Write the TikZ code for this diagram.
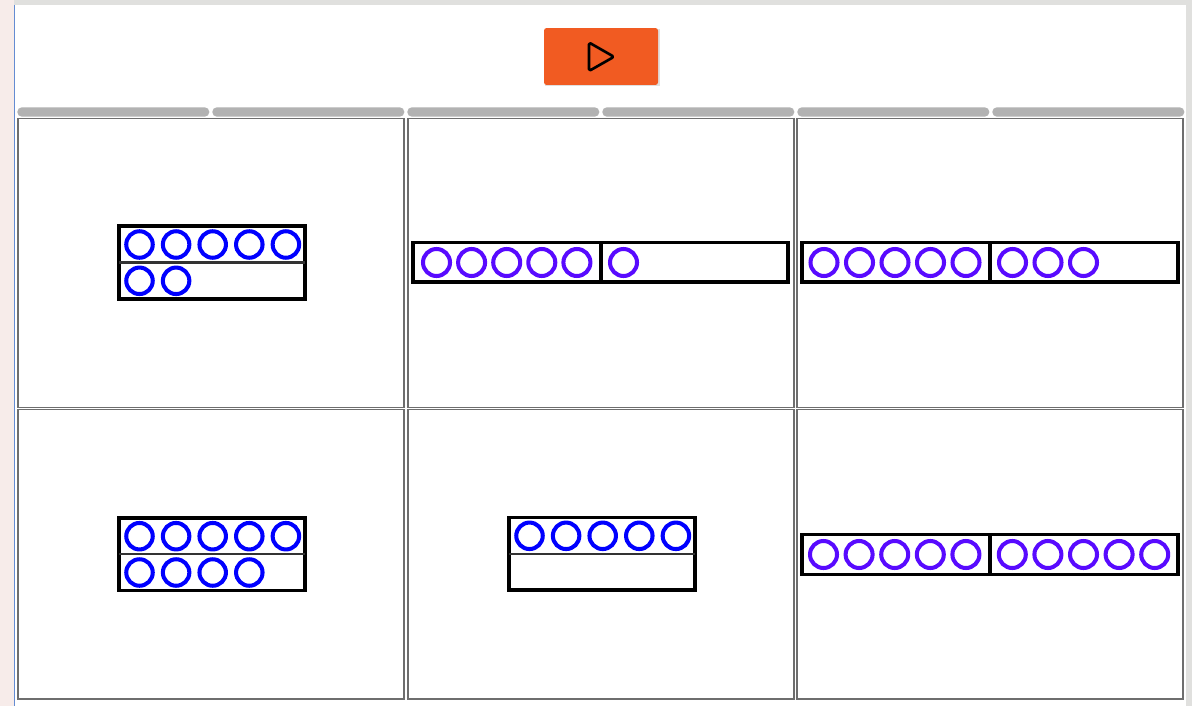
\documentclass[tikz,border=0pt]{standalone}
\usepackage{xcolor}
\usepackage{tikz}
\usetikzlibrary{positioning}
\definecolor{playorange}{RGB}{241,91,34}
\definecolor{dotblue}{RGB}{0,0,255}
\definecolor{dotviolet}{RGB}{88,10,255}
\definecolor{bargray}{RGB}{178,178,178}
\definecolor{framegray}{RGB}{110,110,110}
\definecolor{pagepink}{RGB}{247,236,234}
\definecolor{pagegray}{RGB}{224,224,222}
\definecolor{edgeblue}{RGB}{100,140,210}

\begin{document}
\begin{tikzpicture}[x=0.02cm, y=-0.02cm,
  frame/.style={draw=framegray, line width=0.9pt, fill=white},
  tenbox/.style={draw=black, line width=2.1pt},
  midline/.style={draw=black!80, line width=1.2pt},
  bluedot/.style={draw=dotblue, line width=2.3pt},
  violetdot/.style={draw=dotviolet, line width=2.3pt},
  bar/.style={fill=bargray, rounded corners=2.6pt},
  playbtn/.style={fill=playorange, rounded corners=1.5pt, minimum width=2.28cm, minimum height=1.14cm, inner sep=0pt}
]
\useasboundingbox (0,0) rectangle (1192,706);

% page background
\fill[pagegray] (0,0) rectangle (1192,706);
\fill[pagepink] (0,0) rectangle (14,706);
\fill[white] (15,5) rectangle (1186,706);
\draw[edgeblue, line width=0.6pt] (14.5,5) -- (14.5,706);

% play button
\fill[black!12] (545,29.5) rectangle (659.5,86.5);
\node[playbtn] (play) at (601,56.5) {};
\draw[line width=1.5pt, line join=round, rounded corners=1pt] (589,42.5) -- (589,71) -- (614,56.8) -- cycle;

% progress bars
\foreach \i in {0,...,5}
  \fill[bar] (17.3+195*\i,107.3) rectangle ++(192,9.4);

% frames
\foreach \xa in {18,408,797} {
  \draw[frame] (\xa,118.5) rectangle ++(386,289);
  \draw[frame] (\xa,409.5) rectangle ++(386,289.5);
}

% frame 1: 5 + 2
\draw[tenbox] (119,226) rectangle (305,299);
\draw[midline] (119,262.5) -- (305,262.5);
\foreach \i in {0,...,4} \draw[bluedot] (139.5+36.6*\i,244.5) circle[radius=0.265cm];
\foreach \i in {0,1} \draw[bluedot] (139.5+36.6*\i,280.8) circle[radius=0.265cm];

% frame 2: 5 | 1
\draw[tenbox] (413,242.5) rectangle (788,282);
\draw[tenbox] (601,242.5) -- (601,282);
\foreach \i in {0,...,4} \draw[violetdot] (436.5+35.1*\i,262.5) circle[radius=0.27cm];
\draw[violetdot] (623.5,262.5) circle[radius=0.27cm];

% frame 3: 5 | 3
\draw[tenbox] (802,242.5) rectangle (1178,282);
\draw[tenbox] (990,242.5) -- (990,282);
\foreach \i in {0,...,4} \draw[violetdot] (824+35.5*\i,262.5) circle[radius=0.27cm];
\foreach \i in {0,...,2} \draw[violetdot] (1012.5+35.5*\i,262.5) circle[radius=0.27cm];

% frame 4: 5 + 4
\draw[tenbox] (119,518) rectangle (305,590.5);
\draw[midline] (119,554.3) -- (305,554.3);
\foreach \i in {0,...,4} \draw[bluedot] (139.5+36.6*\i,536.2) circle[radius=0.265cm];
\foreach \i in {0,...,3} \draw[bluedot] (139.5+36.6*\i,572.5) circle[radius=0.265cm];

% frame 5: 5 + 0
\draw[tenbox] (509,517.5) rectangle (695,590);
\draw[midline] (509,553.8) -- (695,553.8);
\foreach \i in {0,...,4} \draw[bluedot] (529.5+36.6*\i,535.8) circle[radius=0.265cm];

% frame 6: 5 | 5
\draw[tenbox] (802,534.5) rectangle (1178,574.5);
\draw[tenbox] (990,534.5) -- (990,574.5);
\foreach \i in {0,...,4} \draw[violetdot] (823.5+35.6*\i,554.5) circle[radius=0.27cm];
\foreach \i in {0,...,4} \draw[violetdot] (1012.3+35.6*\i,554.5) circle[radius=0.27cm];

\end{tikzpicture}
\end{document}
